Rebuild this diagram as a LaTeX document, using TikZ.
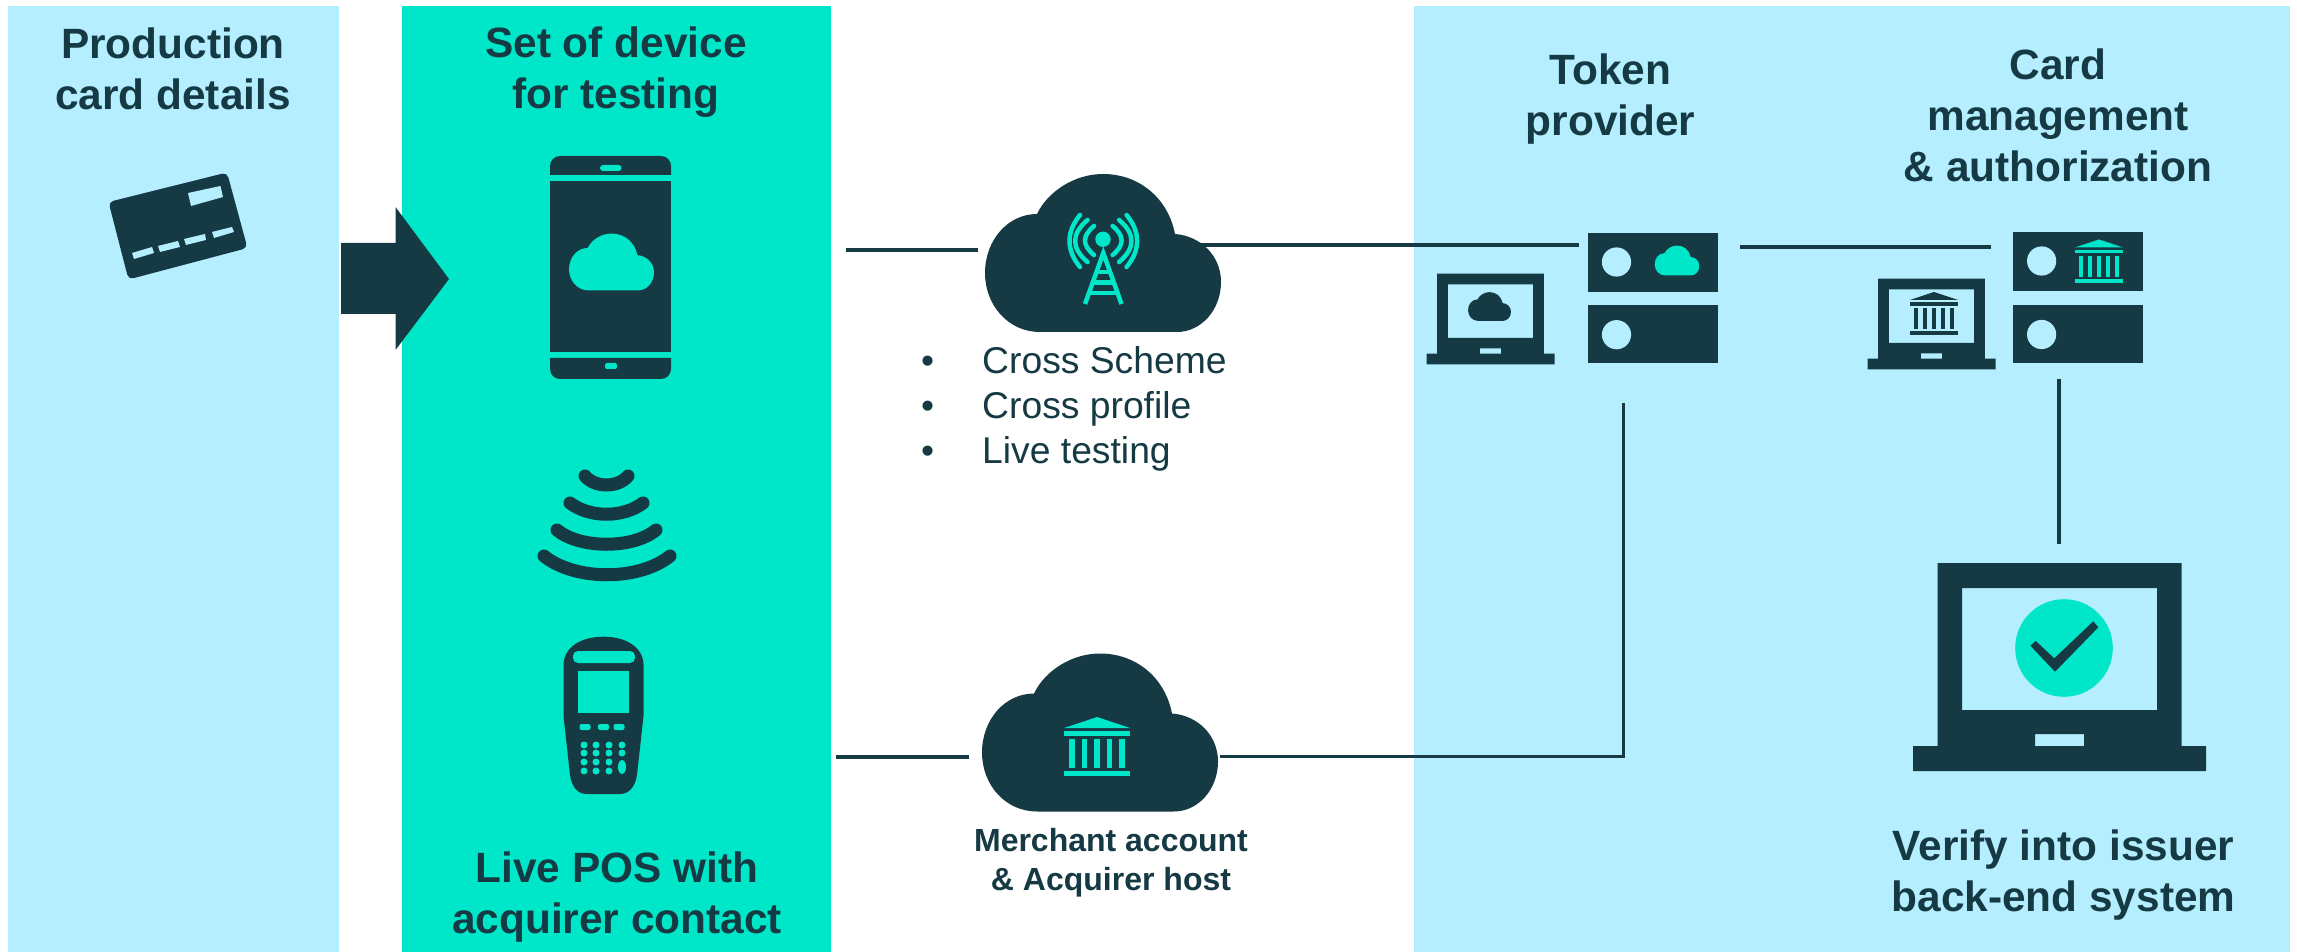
\documentclass[tikz,border=0pt]{standalone}
\usepackage{fontspec}
\setmainfont{Liberation Sans}
\definecolor{panelblue}{HTML}{B4EEFF}
\definecolor{panelgreen}{HTML}{00E6C8}
\definecolor{darkteal}{HTML}{153A44}
\tikzset{
  headlabel/.style={font=\fontsize{12.05}{14.5}\selectfont\bfseries, text=darkteal, align=center, inner sep=0pt},
  smalllabel/.style={font=\fontsize{9.1}{11}\selectfont\bfseries, text=darkteal, align=center, inner sep=0pt},
  itemlabel/.style={font=\fontsize{10.6}{12.8}\selectfont, text=darkteal, inner sep=0pt},
  linkline/.style={draw=darkteal, line width=.04cm},
  thinline/.style={draw=darkteal, line width=.033cm},
  waveline/.style={draw=darkteal, line width=.13cm, line cap=round},
  towerline/.style={draw=panelgreen, line width=.045cm},
  cloudicon/.pic={
    \fill[pic actions] (-63,79) .. controls (-95,79) and (-118,52) .. (-118,20)
      .. controls (-118,-13) and (-95,-39) .. (-66,-39)
      .. controls (-55,-62) and (-28,-79) .. (0,-79)
      .. controls (36,-79) and (65,-55) .. (72,-19)
      .. controls (98,-17) and (118,3) .. (118,29)
      .. controls (118,57) and (98,79) .. (74,79) -- cycle;
  },
  bankicon/.pic={
    \fill[pic actions] (0,-29.5) -- (33,-18.5) -- (-33,-18.5) -- cycle;
    \fill[pic actions] (-33,-15.5) rectangle (33,-10.5);
    \foreach \cx in {-25,-12.5,0,12.5,25}
      \fill[pic actions] (\cx-2.75,-7.5) rectangle (\cx+2.75,21.5);
    \fill[pic actions] (-33,24.5) rectangle (33,29.5);
  },
  laptopicon/.pic={
    \fill[pic actions, even odd rule] (-122,-104) -- (122,-104) -- (122,79) -- (146.5,79) -- (146.5,104)
      -- (-146.5,104) -- (-146.5,79) -- (-122,79) -- cycle
      (-97.5,-79) rectangle (97.5,43) (-24.5,67) rectangle (24.5,79);
  },
}
\begin{document}
\begin{tikzpicture}[x=.01cm, y=-.01cm]
  \useasboundingbox (0,0) rectangle (2297,952);

  \fill[panelblue] (8,6) rectangle (339,952);
  \fill[panelgreen] (402,6) rectangle (831,952);
  \fill[panelblue] (1414,6) rectangle (2290,952);

  \fill[darkteal] (341,243) -- (395.5,243) -- (395.5,207) -- (449,279) -- (395.5,350) -- (395.5,314) -- (341,314) -- cycle;

  \coordinate (deviceTop) at (846,249.7);
  \coordinate (cloudTopL) at (978,249.7);
  \coordinate (cloudTopR) at (1150,244.7);
  \coordinate (tokenIn) at (1578.5,244.7);
  \coordinate (tokenOut) at (1739.8,247.3);
  \coordinate (cardIn) at (1991,247.3);
  \coordinate (cardDown) at (2059,378.7);
  \coordinate (issuerUp) at (2059,543.7);
  \coordinate (deviceLow) at (836,756.7);
  \coordinate (cloudLowL) at (969,756.7);
  \coordinate (cloudLowR) at (1220,756.7);
  \coordinate (tokenCorner) at (1623.7,756.7);
  \coordinate (tokenDown) at (1623.7,403);

  \draw[linkline] (deviceTop) -- (cloudTopL);
  \draw[linkline] (cloudTopR) -- (tokenIn);
  \draw[linkline] (tokenOut) -- (cardIn);
  \draw[thinline] (cardDown) -- (issuerUp);
  \draw[linkline] (deviceLow) -- (cloudLowL);
  \draw[thinline] (cloudLowR) -- (tokenCorner) -- (tokenDown);

  \fill[darkteal, rounded corners=.05cm] (108.5,202) -- (227,172.5) -- (247.5,248) -- (128.5,279.5) -- cycle;
  \fill[panelblue] (188,193) -- (220.5,186) -- (223,197) -- (191,206) -- cycle;
  \fill[panelblue] (132,253) -- (152,247) -- (154,253) -- (134,259) -- cycle;
  \fill[panelblue] (158,246) -- (178,241) -- (180,247) -- (160,252) -- cycle;
  \fill[panelblue] (184,239) -- (205,234) -- (206,240) -- (186,245) -- cycle;
  \fill[panelblue] (212,232) -- (232,227) -- (234,232) -- (214,238) -- cycle;

  \fill[darkteal] (550,175) [rounded corners=.1cm] -- (550,156) -- (671,156) [sharp corners] -- (671,175) -- cycle;
  \fill[darkteal] (550,181) rectangle (671,352);
  \fill[darkteal] (550,358) [rounded corners=.1cm] -- (550,379) -- (671,379) [sharp corners] -- (671,358) -- cycle;
  \fill[panelgreen, rounded corners=.03cm] (600,165) rectangle (621.5,171);
  \fill[panelgreen, rounded corners=.02cm] (605,363) rectangle (617,369);
  \pic[fill=panelgreen, scale=.36] at (611.5,262) {cloudicon};

  \draw[waveline] (585,476) .. controls (595,488) and (618,488) .. (628,476);
  \draw[waveline] (570,503) .. controls (590,518) and (623,518) .. (643,503);
  \draw[waveline] (557,530) .. controls (580,549) and (633,549) .. (656,530);
  \draw[waveline] (544,556) .. controls (575,581) and (639,581) .. (670,556);

  \fill[darkteal] (563.5,665) .. controls (563.5,648) and (580,636.7) .. (603.5,636.7)
    .. controls (627,636.7) and (643.5,648) .. (643.5,665) -- (643.5,716) -- (637,775)
    .. controls (635,788) and (628,794) .. (620,794) -- (587,794)
    .. controls (578,794) and (572,788) .. (570,775) -- (563.5,716) -- cycle;
  \fill[panelgreen, rounded corners=.05cm] (573,651) rectangle (635,663);
  \fill[panelgreen] (578,671) rectangle (629,713);
  \foreach \bx in {585,603.5,619}
    \fill[panelgreen, rounded corners=.02cm] (\bx-5.5,724) rectangle (\bx+5.5,730);
  \foreach \kx in {584,596,609}
    \foreach \ky in {745,753,762,771}
      \fill[panelgreen] (\kx,\ky) circle (3.5);
  \foreach \ky in {745,753}
    \fill[panelgreen] (622,\ky) circle (3.5);
  \fill[panelgreen] (622,767) ellipse (4 and 7);

  \pic[fill=darkteal] at (1103,253) {cloudicon};
  \pic[fill=darkteal] at (1100,732.5) {cloudicon};
  \pic[fill=panelgreen] at (1097,746.5) {bankicon};

  \fill[panelgreen] (1103,239.3) circle (7.7);
  \draw[towerline] (1085,304) -- (1103.3,253) -- (1121.5,304);
  \foreach \ry/\rw in {272/7.3,282.5/10.7,293/14.2}
    \draw[towerline] (1103.3-\rw,\ry) -- (1103.3+\rw,\ry);
  \foreach \sx in {1,-1} {
    \draw[towerline, line cap=round] (1103.3-\sx*23.3,215) .. controls (1103.3-\sx*37.3,232) and (1103.3-\sx*37.3,250) .. (1103.3-\sx*23.3,267);
    \draw[towerline, line cap=round] (1103.3-\sx*15.8,220) .. controls (1103.3-\sx*32.3,234) and (1103.3-\sx*32.3,248) .. (1103.3-\sx*15.8,262);
    \draw[towerline, line cap=round] (1103.3-\sx*9.3,226) .. controls (1103.3-\sx*21.3,236) and (1103.3-\sx*21.3,245) .. (1103.3-\sx*9.3,255);
  }

  \fill[darkteal] (1587.6,233) rectangle (1718,292);
  \fill[darkteal] (1587.6,305) rectangle (1718,363);
  \fill[panelblue] (1616.5,262) circle (14.6);
  \fill[panelblue] (1616.5,334.7) circle (14.6);
  \pic[fill=panelgreen, scale=.189] at (1677,260.5) {cloudicon};
  \pic[fill=darkteal] [scale=.437] at (1490.5,319) {laptopicon};
  \pic[fill=darkteal, scale=.182] at (1489.5,306.5) {cloudicon};

  \fill[darkteal] (2012.7,232) rectangle (2142.6,291);
  \fill[darkteal] (2012.7,305) rectangle (2142.6,363);
  \fill[panelblue] (2041.6,261) circle (14.6);
  \fill[panelblue] (2041.6,334.5) circle (14.6);
  \pic[fill=panelgreen, scale=.73] at (2099,261) {bankicon};
  \pic[fill=darkteal, scale=.437] at (1931.5,324) {laptopicon};
  \pic[fill=darkteal, scale=.73] at (1934,313.5) {bankicon};

  \pic[fill=darkteal] at (2059.5,667) {laptopicon};
  \fill[panelgreen] (2064,648) circle (48.8);
  \fill[darkteal] (2030.3,645.7) -- (2035.7,641) -- (2054.3,658.3) -- (2093.3,621.3) -- (2098.3,627.3) -- (2055,671.7) -- cycle;

  \node[headlabel] (prodLabel) at (173,69) {Production\\card details};
  \node[headlabel] (setLabel) at (616,72.5) {Set of device\\for testing};
  \node[headlabel] (posLabel) at (617,897) {Live POS with\\acquirer contact};
  \node[headlabel] (tokenLabel) at (1610.5,99.5) {Token\\provider};
  \node[headlabel] (cardLabel) at (2058,115.5) {Card\\management\\\& authorization};
  \node[headlabel] (verifyLabel) at (2063.5,875) {Verify into issuer\\back-end system};
  \node[smalllabel] (merchantLabel) at (1111,863) {Merchant account\\\& Acquirer host};

  \foreach \iy/\itxt in {373.5/Cross Scheme,418.5/Cross profile,463.5/Live testing} {
    \node[itemlabel, anchor=base] at (927.7,\iy) {•};
    \node[itemlabel, anchor=base west] at (981.5,\iy) {\itxt};
  }
\end{tikzpicture}
\end{document}
